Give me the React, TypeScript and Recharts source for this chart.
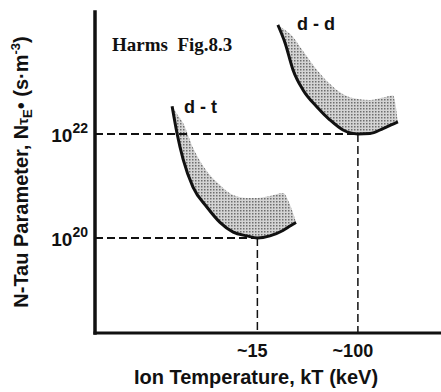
import {
  ComposedChart,
  Line,
  Area,
  XAxis,
  YAxis,
  ReferenceLine,
} from "recharts";

// d-t curve (ion temperature in keV, N-tau in s·m^-3)
const dtTemp = [3.0, 3.3, 3.7, 4.45, 5.8, 7.4, 9.5, 12.3, 15, 19, 24.3, 27.8, 31.1];
const dtLow = [3.4e22, 1.0e22, 3.2e21, 9.5e20, 3.9e20, 2.0e20, 1.3e20, 1.1e20, 1.0e20, 1.1e20, 1.4e20, 1.7e20, 2.0e20];
const dtHigh = [3.4e22, 2.4e22, 1.6e22, 5.4e21, 1.9e21, 1.05e21, 6.7e20, 5.9e20, 5.9e20, 6.4e20, 7.3e20, 4.3e20, 2.0e20];

// d-d curve
const ddTemp = [22.1, 25.3, 29.4, 35.5, 46.2, 59.1, 75.5, 100, 125.7, 160.7, 194, 213];
const ddLow = [1.24e24, 5.6e23, 1.7e23, 7.0e22, 3.3e22, 1.85e22, 1.19e22, 1.0e22, 1.02e22, 1.27e22, 1.55e22, 1.7e22];
const ddHigh = [1.24e24, 9.9e23, 7.3e23, 3.9e23, 1.7e23, 9.1e22, 5.8e22, 4.7e22, 4.5e22, 5.0e22, 5.5e22, 1.7e22];

const xTicks = [15, 100];
const xTickLabels = ["~15", "~100"];
const yTickExp = [20, 22];

const xDomain = [0.7, 480];
const yDomain = [1.5e18, 2.2e24];

const toRows = (t: number[], low: number[], high: number[]) =>
  t.map((v, i) => ({ t: v, low: low[i], high: high[i] }));

const dtData = toRows(dtTemp, dtLow, dtHigh);
const ddData = toRows(ddTemp, ddLow, ddHigh);

const sans = "'Liberation Sans', Arial, sans-serif";

const XTick = ({ x, y, payload }: any) => (
  <text x={x - 5} y={y + 24} textAnchor="middle" fontFamily={sans} fontSize={18} fontWeight="bold" fill="#111">
    {xTickLabels[xTicks.indexOf(payload.value)]}
  </text>
);

const YTick = ({ x, y, payload }: any) => {
  const exp = Math.round(Math.log10(payload.value));
  return (
    <text x={x - 7} y={y + 8} textAnchor="end" fontFamily={sans} fill="#111">
      <tspan fontSize={19} fontWeight="bold">10</tspan>
      <tspan fontSize={14} fontWeight="bold" dy={-9}>{exp}</tspan>
    </text>
  );
};

const YLabel = () => (
  <text transform="rotate(-90)" x={-172} y={28} textAnchor="middle" fontFamily={sans} fontSize={20} fontWeight="bold" fill="#111">
    N-Tau Parameter, N
    <tspan fontSize={15}>τ</tspan>
    <tspan fontSize={13} dy={4}>E</tspan>
    <tspan dy={-4}>• (s·m</tspan>
    <tspan fontSize={13} dy={-8}>-3</tspan>
    <tspan dy={8}>)</tspan>
  </text>
);

const XLabel = () => (
  <text x={256} y={384} textAnchor="middle" fontFamily={sans} fontSize={20} fontWeight="bold" fill="#111">
    Ion Temperature, kT (keV)
  </text>
);

const dash = { stroke: "#111", strokeWidth: 2, strokeDasharray: "8 4" };

export default function App() {
  return (
    <div style={{ position: "absolute", left: 0, top: 0, width: 441, height: 392, background: "#fff" }}>
      <ComposedChart width={441} height={392} margin={{ top: 12, right: 0, bottom: 0, left: 0 }}>
        <defs>
          <pattern id="stipple" patternUnits="userSpaceOnUse" width={3} height={3}>
            <rect width={3} height={3} fill="#d4d4d4" />
            <rect width={1.5} height={1.5} fill="#6e6e6e" />
          </pattern>
        </defs>
        <XAxis
          dataKey="t"
          type="number"
          scale="log"
          domain={xDomain}
          allowDataOverflow
          ticks={xTicks}
          height={59}
          tickSize={0}
          tickMargin={0}
          tickLine={false}
          tick={<XTick />}
          axisLine={{ stroke: "#111", strokeWidth: 3, strokeLinecap: "square" }}
          label={<XLabel />}
        />
        <YAxis
          type="number"
          scale="log"
          domain={yDomain}
          allowDataOverflow
          ticks={yTickExp.map((e) => Math.pow(10, e))}
          width={95}
          tickSize={0}
          tickMargin={0}
          tickLine={false}
          tick={<YTick />}
          axisLine={{ stroke: "#111", strokeWidth: 3.5, strokeLinecap: "square" }}
          label={<YLabel />}
        />
        <Area data={dtData} dataKey={(d: any) => [d.low, d.high]} type="monotone" stroke="none" fill="url(#stipple)" fillOpacity={1} isAnimationActive={false} />
        <Area data={ddData} dataKey={(d: any) => [d.low, d.high]} type="monotone" stroke="none" fill="url(#stipple)" fillOpacity={1} isAnimationActive={false} />
        <ReferenceLine segment={[{ x: xDomain[0], y: 1e22 }, { x: 100, y: 1e22 }]} {...dash} />
        <ReferenceLine segment={[{ x: xDomain[0], y: 1e20 }, { x: 15, y: 1e20 }]} {...dash} />
        <ReferenceLine segment={[{ x: 15, y: 1e20 }, { x: 15, y: yDomain[0] }]} {...dash} strokeWidth={1.5} />
        <ReferenceLine segment={[{ x: 100, y: 1e22 }, { x: 100, y: yDomain[0] }]} {...dash} strokeWidth={1.5} />
        <Line data={dtData} dataKey="low" type="monotone" stroke="#111" strokeWidth={3} dot={false} isAnimationActive={false} />
        <Line data={ddData} dataKey="low" type="monotone" stroke="#111" strokeWidth={3} dot={false} isAnimationActive={false} />
        <text x={184} y={113} fontFamily={sans} fontSize={18} fontWeight="bold" fill="#111">d - t</text>
        <text x={297} y={30} fontFamily={sans} fontSize={18} fontWeight="bold" fill="#111">d - d</text>
        <text x={112} y={51} fontFamily="'Liberation Serif', 'Times New Roman', serif" fontSize={19} fontWeight="bold" fill="#111" xmlSpace="preserve">
          Harms  Fig.8.3
        </text>
      </ComposedChart>
    </div>
  );
}
